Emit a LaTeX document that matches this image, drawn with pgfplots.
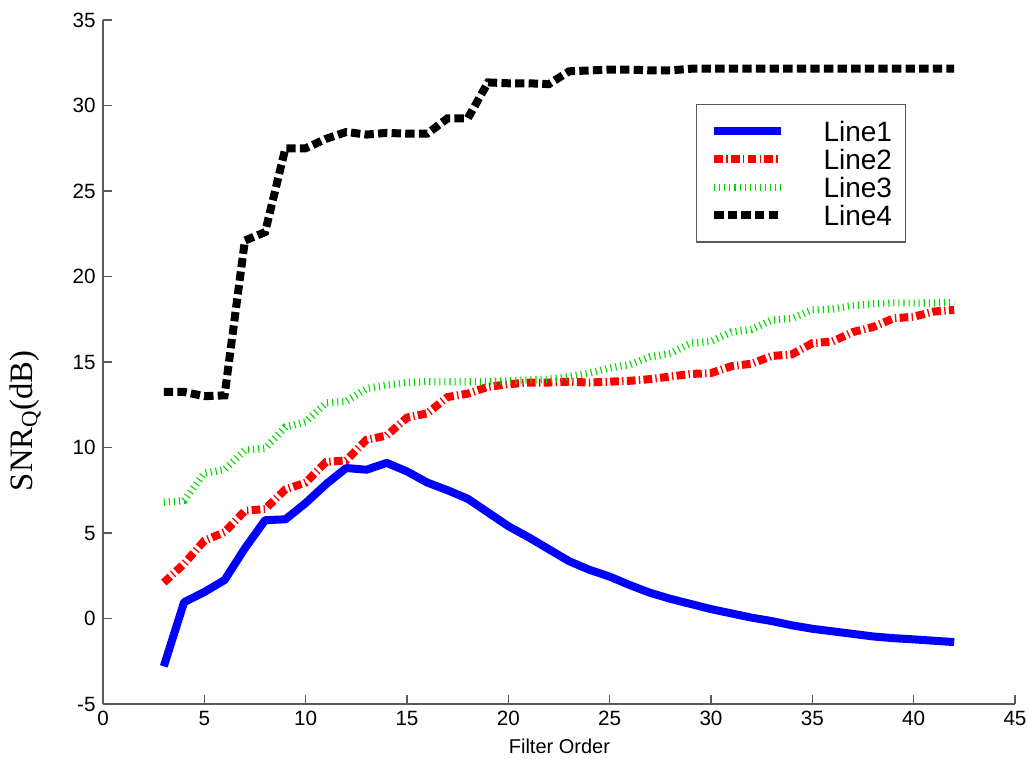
\documentclass[border=0pt]{standalone}
\usepackage{fontspec}
\setmainfont{Liberation Sans}
\newfontfamily\timesfont{Liberation Serif}
\usepackage{pgfplots}
\pgfplotsset{compat=1.18}
\definecolor{mgreen}{RGB}{0,215,0}
\definecolor{axgray}{RGB}{90,90,90}
\begin{document}
\begin{tikzpicture}
\useasboundingbox (-77.25pt,-40.5pt) rectangle (694.5pt,528pt);
\begin{axis}[
  at={(0,0)}, anchor=south west,
  scale only axis, width=684pt, height=513pt,
  xmin=0, xmax=45, ymin=-5, ymax=35,
  xtick={0,5,...,45}, ytick={-5,0,...,35},
  axis x line=bottom, axis y line=left,
  axis line style={-, draw=axgray, line width=0.8pt},
  tick style={draw=axgray, line width=0.8pt},
  tick align=inside,
  major tick length=6.5pt,
  /pgf/number format/assume math mode=true,
  tick label style={font=\fontsize{15.5}{17}\selectfont},
  xticklabel style={yshift=-2pt},
  yticklabel style={xshift=-2pt},
  xlabel={Filter Order},
  xlabel style={font=\fontsize{15}{17}\selectfont, at={(axis description cs:0.5005,-0.0614)}, anchor=center},
  ylabel={\timesfont SNR\textsubscript{Q}(dB)},
  ylabel style={font=\fontsize{24.5}{28}\selectfont, at={(axis description cs:-0.0854,0.414)}, anchor=center, rotate=0},
  legend style={at={(axis description cs:0.6506,0.877)}, anchor=north west,
    draw=axgray, line width=0.8pt, font=\fontsize{21}{21}\selectfont,
    inner xsep=10pt, inner ysep=12.5pt, row sep=6pt,
    nodes={inner sep=0pt, text height=15pt, text depth=0pt},
    /tikz/every odd column/.append style={column sep=29pt}},
  legend cell align=left,
  legend image code/.code={\draw[#1] (0pt,0pt) -- (50pt,0pt);},
]
\addplot[blue, line width=6pt, line join=round] coordinates {
(3,-2.8) (4,0.95) (5,1.55) (6,2.25) (7,4.1) (8,5.75) (9,5.8) (10,6.75) (11,7.85) (12,8.8)
(13,8.7) (14,9.1) (15,8.6) (16,7.95) (17,7.5) (18,7.0) (19,6.2) (20,5.4) (21,4.75) (22,4.05)
(23,3.35) (24,2.85) (25,2.45) (26,1.95) (27,1.5) (28,1.15) (29,0.85) (30,0.55) (31,0.3) (32,0.05)
(33,-0.15) (34,-0.4) (35,-0.6) (36,-0.75) (37,-0.9) (38,-1.05) (39,-1.15) (40,-1.22) (41,-1.3) (42,-1.38)
};
\addlegendentry{Line1}
\addplot[red, line width=6pt, dash pattern=on 6.5pt off 2.5pt on 1pt off 2.5pt] coordinates {
(3,2.1) (4,3.2) (5,4.55) (6,5.05) (7,6.3) (8,6.4) (9,7.55) (10,7.95) (11,9.15) (12,9.25)
(13,10.45) (14,10.7) (15,11.75) (16,12.0) (17,12.95) (18,13.15) (19,13.55) (20,13.7) (21,13.8) (22,13.8)
(23,13.85) (24,13.8) (25,13.85) (26,13.9) (27,14.0) (28,14.15) (29,14.3) (30,14.35) (31,14.75) (32,14.9)
(33,15.35) (34,15.45) (35,16.1) (36,16.2) (37,16.75) (38,17.05) (39,17.55) (40,17.65) (41,17.95) (42,18.05)
};
\addlegendentry{Line2}
\addplot[mgreen, line width=5.5pt, dash pattern=on 0.8pt off 3pt] coordinates {
(3,6.8) (4,6.9) (5,8.5) (6,8.7) (7,9.85) (8,9.95) (9,11.2) (10,11.5) (11,12.6) (12,12.7)
(13,13.45) (14,13.65) (15,13.8) (16,13.85) (17,13.85) (18,13.85) (19,13.85) (20,13.9) (21,13.95) (22,14.0)
(23,14.15) (24,14.35) (25,14.65) (26,14.85) (27,15.3) (28,15.5) (29,16.1) (30,16.2) (31,16.75) (32,16.9)
(33,17.45) (34,17.55) (35,18.05) (36,18.1) (37,18.3) (38,18.4) (39,18.45) (40,18.45) (41,18.45) (42,18.5)
};
\addlegendentry{Line3}
\addplot[black, line width=6pt, dash pattern=on 7pt off 3.2pt] coordinates {
(3,13.25) (4,13.25) (5,13.0) (6,13.05) (7,22.1) (8,22.6) (9,27.5) (10,27.5) (11,28.05) (12,28.45)
(13,28.3) (14,28.4) (15,28.35) (16,28.35) (17,29.25) (18,29.25) (19,31.35) (20,31.3) (21,31.3) (22,31.25)
(23,32.0) (24,32.05) (25,32.1) (26,32.1) (27,32.05) (28,32.05) (29,32.15) (30,32.15) (31,32.15) (32,32.15)
(33,32.15) (34,32.15) (35,32.15) (36,32.15) (37,32.15) (38,32.15) (39,32.15) (40,32.15) (41,32.15) (42,32.15)
};
\addlegendentry{Line4}
\end{axis}
\end{tikzpicture}
\end{document}
